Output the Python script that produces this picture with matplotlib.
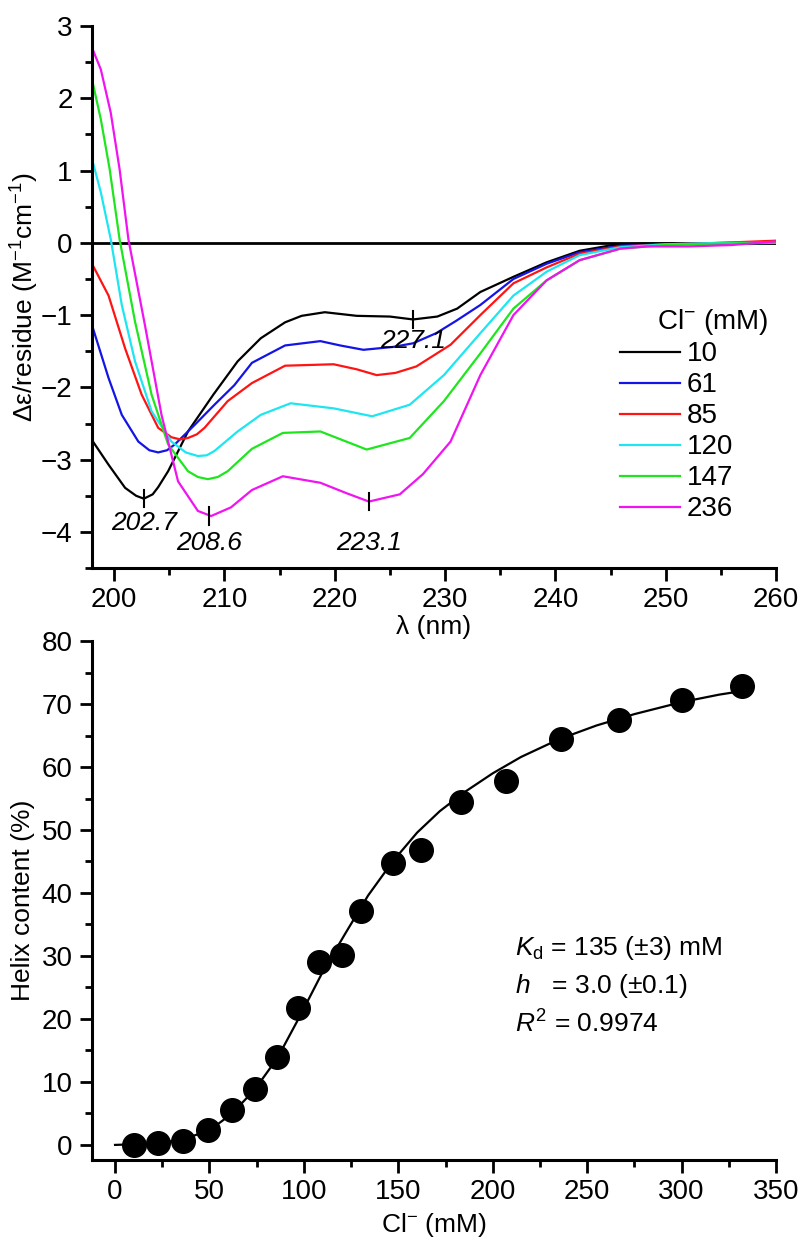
import matplotlib
matplotlib.use('Agg')
import matplotlib.pyplot as plt
import numpy as np

plt.rcParams['font.family'] = ['Liberation Sans', 'DejaVu Sans']
plt.rcParams['mathtext.fontset'] = 'custom'
plt.rcParams['mathtext.rm'] = 'Liberation Sans'
plt.rcParams['mathtext.it'] = 'Liberation Sans:italic'

# ---- CD spectra (top) ----
wl_10 = [198.0, 199.5, 201.0, 202.0, 202.7, 203.5, 204.0, 204.9, 206.7, 209.0, 211.2, 213.3, 215.5, 217.0, 219.1,
         222.0, 225.0, 227.1, 229.3, 231.1, 233.2, 236.2, 239.2, 242.2, 245.2, 248.0, 252.0, 256.0, 260.0]
cd_10 = [-2.73, -3.07, -3.39, -3.50, -3.54, -3.48, -3.38, -3.16, -2.61, -2.10, -1.64, -1.32, -1.10, -1.01, -0.96,
         -1.01, -1.02, -1.06, -1.02, -0.91, -0.68, -0.47, -0.27, -0.11, -0.03, -0.01, -0.01, 0.00, 0.01]

wl_61 = [198.0, 199.5, 200.7, 202.2, 203.2, 204.0, 204.8, 205.5, 207.3, 209.1, 210.9, 212.5, 215.5, 218.7, 220.5,
         222.6, 225.3, 227.1, 229.2, 231.0, 233.2, 236.2, 239.2, 242.2, 245.9, 250.0, 255.0, 260.0]
cd_61 = [-1.14, -1.87, -2.38, -2.75, -2.87, -2.90, -2.87, -2.79, -2.52, -2.24, -1.97, -1.66, -1.42, -1.36, -1.42,
         -1.48, -1.44, -1.39, -1.25, -1.08, -0.86, -0.50, -0.29, -0.13, -0.04, -0.02, -0.01, 0.00]

wl_85 = [198.0, 199.5, 201.0, 202.5, 204.0, 205.2, 206.0, 206.7, 207.5, 208.2, 210.3, 212.5, 215.5, 219.9, 222.0,
         223.8, 225.5, 227.4, 230.5, 233.2, 236.2, 239.2, 242.2, 245.9, 250.0, 255.0, 260.0]
cd_85 = [-0.29, -0.73, -1.46, -2.10, -2.56, -2.69, -2.72, -2.70, -2.65, -2.56, -2.19, -1.94, -1.70, -1.68, -1.75,
         -1.83, -1.80, -1.71, -1.41, -1.00, -0.56, -0.34, -0.15, -0.05, -0.02, 0.00, 0.03]

wl_120 = [198.0, 198.8, 199.7, 200.7, 201.9, 203.4, 205.2, 206.5, 207.6, 208.4, 209.1, 211.2, 213.3, 216.0, 219.9,
          223.4, 226.8, 229.9, 233.2, 236.2, 239.2, 242.2, 245.9, 250.0, 255.0, 260.0]
cd_120 = [1.16, 0.70, 0.05, -0.86, -1.64, -2.33, -2.75, -2.90, -2.95, -2.94, -2.88, -2.61, -2.38, -2.22, -2.29,
          -2.40, -2.24, -1.83, -1.25, -0.73, -0.40, -0.17, -0.06, -0.02, 0.00, 0.00]

wl_147 = [198.0, 198.8, 199.6, 200.5, 201.9, 203.4, 204.9, 206.7, 207.6, 208.5, 209.4, 210.3, 212.5, 215.3, 218.7,
          222.9, 226.8, 229.9, 233.2, 236.2, 239.2, 242.2, 245.9, 250.0, 255.0, 260.0]
cd_147 = [2.26, 1.71, 1.02, 0.05, -1.09, -2.10, -2.79, -3.16, -3.24, -3.27, -3.24, -3.16, -2.85, -2.63, -2.61,
          -2.86, -2.70, -2.19, -1.53, -0.91, -0.52, -0.24, -0.08, -0.03, -0.01, 0.00]

wl_236 = [198.0, 198.8, 199.7, 200.5, 201.3, 202.8, 204.3, 205.8, 207.6, 208.8, 210.6, 212.5, 215.3,
          218.7, 221.0, 223.1, 225.9, 228.0, 230.5, 233.2, 236.2, 239.2, 242.2, 245.9, 248.3, 252.0,
          256.0, 260.0]
cd_236 = [2.70, 2.40, 1.80, 1.02, 0.05, -1.14, -2.38, -3.30, -3.71, -3.78, -3.66, -3.42, -3.23,
          -3.32, -3.46, -3.58, -3.48, -3.20, -2.75, -1.83, -1.00, -0.52, -0.24, -0.08, -0.05, -0.05,
          -0.03, 0.02]

conc_labels = ['10', '61', '85', '120', '147', '236']
colors = ['#000000', '#1414e6', '#ff1414', '#1ee6f0', '#1ee61e', '#f014f0']

# marked extrema
peak_wl = [202.7, 208.6, 223.1, 227.1]
peak_val = [-3.54, -3.78, -3.58, -1.06]
peak_text_y = [-3.87, -4.15, -4.15, -1.36]

# ---- helix content titration (bottom) ----
cl_mM = [10, 23, 36, 49, 62, 74, 86, 97, 108, 120, 130, 147, 162, 183, 207, 236, 267, 300, 332]
helix = [0.0, 0.3, 0.6, 2.4, 5.6, 8.9, 14.0, 21.8, 29.1, 30.2, 37.2, 44.8, 46.8, 54.4, 57.8,
         64.4, 67.4, 70.6, 72.8]

fit_x = [0, 20, 35, 50, 62, 74, 86, 98, 110, 122, 134, 147, 160, 172, 185, 200, 215, 235, 255,
         275, 300, 320, 335]
fit_y = [0.0, 0.2, 0.8, 2.3, 5.0, 8.8, 13.8, 20.5, 27.5, 33.6, 39.6, 45.0, 49.6, 53.0, 56.0,
         59.0, 61.6, 64.4, 66.6, 68.4, 70.3, 71.5, 72.2]

fig = plt.figure(figsize=(8, 12.46), dpi=100)
ax1 = fig.add_axes([0.115, 0.5441, 0.855, 0.435])
ax2 = fig.add_axes([0.115, 0.069, 0.855, 0.4165])
ax2.patch.set_alpha(0)

def style(ax):
    for s in ['top', 'right']:
        ax.spines[s].set_visible(False)
    for s in ['left', 'bottom']:
        ax.spines[s].set_linewidth(2.2)
    ax.tick_params(which='major', direction='out', length=9, width=2, labelsize=20, pad=5)
    ax.tick_params(which='minor', direction='out', length=5, width=2)

# top panel
ax1.axhline(0, color='black', lw=2)
series = [(wl_10, cd_10), (wl_61, cd_61), (wl_85, cd_85),
          (wl_120, cd_120), (wl_147, cd_147), (wl_236, cd_236)]
for (wl, cd), lab, c in zip(series, conc_labels, colors):
    ax1.plot(wl, cd, color=c, lw=1.6, label=lab)

for wl, v, ty in zip(peak_wl, peak_val, peak_text_y):
    ax1.plot([wl, wl], [v - 0.12, v + 0.12], color='black', lw=1.5)
    ax1.text(wl, ty, f'{wl:.1f}', style='italic', fontsize=19, ha='center', va='center')

ax1.set_xlim(198, 260)
ax1.set_ylim(-4.5, 3)
ax1.set_xticks(np.arange(200, 261, 10))
ax1.set_xticks(np.arange(205, 260, 10), minor=True)
ax1.set_yticks(np.arange(-4, 3.1, 1))
ax1.set_yticks(np.arange(-4.5, 3.0, 1), minor=True)
style(ax1)
ax1.set_xlabel('λ (nm)', fontsize=19, labelpad=1)
ax1.set_ylabel('Δε/residue (M$^{-1}$cm$^{-1}$)', fontsize=19, labelpad=0)

ax1.legend(loc='upper left', bbox_to_anchor=(0.772, 0.418),
           frameon=False, fontsize=20, handlelength=2.15,
           handletextpad=0.25, labelspacing=0.18, borderaxespad=0, borderpad=0)
ax1.text(249.2, -1.09, 'Cl$^{-}$ (mM)', fontsize=20, ha='left', va='center')

# bottom panel
ax2.plot(fit_x, fit_y, color='black', lw=1.6, zorder=2)
ax2.plot(cl_mM, helix, 'o', color='black', markersize=17, zorder=3, clip_on=False)
ax2.set_xlim(-12.2, 350)
ax2.set_ylim(-2.4, 80)
ax2.set_xticks(np.arange(0, 351, 50))
ax2.set_xticks(np.arange(25, 350, 50), minor=True)
ax2.set_yticks(np.arange(0, 81, 10))
ax2.set_yticks(np.arange(5, 80, 10), minor=True)
style(ax2)
ax2.set_xlabel('Cl$^{-}$ (mM)', fontsize=19, labelpad=4)
ax2.set_ylabel('Helix content (%)', fontsize=19, labelpad=5)

ax2.text(212, 31.3, '$K_\\mathrm{d}$ = 135 (±3) mM', fontsize=19, va='center')
ax2.text(212, 25.2, '$h$   = 3.0 (±0.1)', fontsize=19, va='center')
ax2.text(212, 19.2, '$R^2$ = 0.9974', fontsize=19, va='center')

fig.savefig('out.png', dpi=100)
